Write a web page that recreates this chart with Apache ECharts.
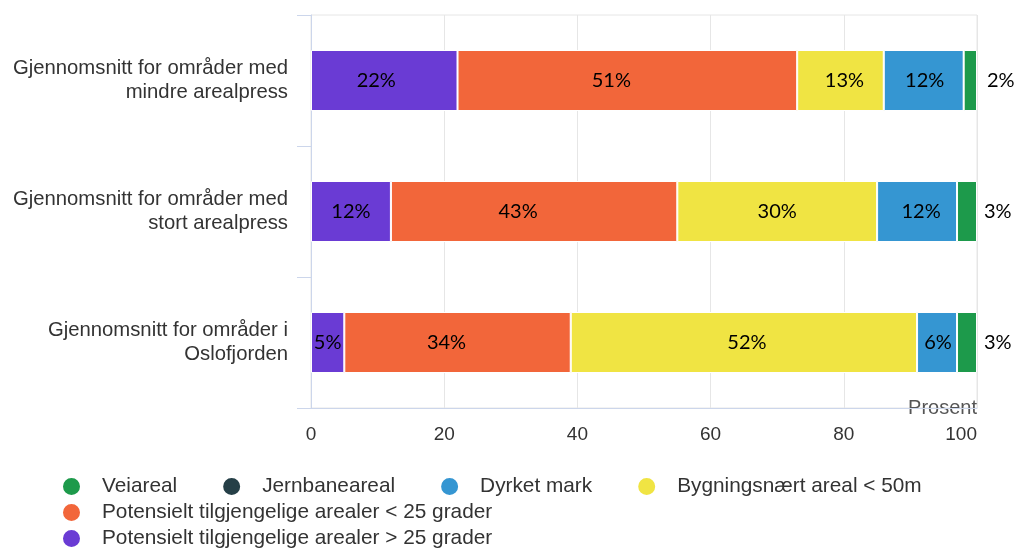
<!DOCTYPE html>
<html>
<head>
<meta charset="utf-8">
<script src="https://cdn.jsdelivr.net/npm/echarts@6/dist/echarts.min.js"></script>
<style>
  html, body { margin: 0; padding: 0; background: #fff; }
  #chart { width: 1014px; height: 548px; }
</style>
</head>
<body>
<div id="chart"></div>
<script>
// Area categories (top to bottom)
const categories = [
  'Gjennomsnitt for områder med\nmindre arealpress',
  'Gjennomsnitt for områder med\nstort arealpress',
  'Gjennomsnitt for områder i\nOslofjorden'
];

// Share of area per land type, percent
const brattAreal = [22, 12, 5];        // Potensielt tilgjengelige arealer > 25 grader
const slakeAreal = [51, 43, 34];       // Potensielt tilgjengelige arealer < 25 grader
const bygningsnaert = [13, 30, 52];    // Bygningsnært areal < 50m
const dyrketMark = [12, 12, 6];        // Dyrket mark
const jernbaneAreal = [0, 0, 0];       // Jernbaneareal
const veiAreal = [2, 3, 3];            // Veiareal

const xTicks = { min: 0, max: 100, interval: 20 };

const names = {
  vei: 'Veiareal',
  jernbane: 'Jernbaneareal',
  dyrket: 'Dyrket mark',
  bygning: 'Bygningsnært areal < 50m',
  slak: 'Potensielt tilgjengelige arealer < 25 grader',
  bratt: 'Potensielt tilgjengelige arealer > 25 grader'
};

const colors = {
  vei: '#1d9a4b',
  jernbane: '#253f47',
  dyrket: '#3596d2',
  bygning: '#f0e443',
  slak: '#f2663a',
  bratt: '#6a3bd4'
};

// Small horizontal label nudges (px) per series, one per category
const labelNudge = {
  bratt: [-8, 0, 0],
  slak: [-16, -16, -11],
  bygning: [4, 0, 3],
  dyrket: [1, 4, 1],
  jernbane: [0, 0, 0],
  vei: [3, 0, 0]
};

const labelFont = { fontFamily: 'Lato', fontSize: 20, color: '#000' };

function bar(key, values, labelOpt) {
  return {
    name: names[key],
    type: 'bar',
    stack: 'total',
    barWidth: 61,
    data: values.map((v, i) => ({ value: v, label: { offset: [labelNudge[key][i], 0] } })),
    itemStyle: { color: colors[key], borderColor: '#fff', borderWidth: 1 },
    label: Object.assign({
      show: true,
      position: 'inside',
      formatter: p => Math.round(p.value) + '%'
    }, labelFont, labelOpt || {}),
    emphasis: { disabled: true }
  };
}

const legendBase = {
  orient: 'horizontal',
  left: 61,
  padding: 0,
  icon: 'circle',
  itemWidth: 19,
  itemHeight: 19,
  itemGap: 44,
  selectedMode: false,
  textStyle: {
    fontFamily: 'Liberation Sans',
    fontSize: 20.8,
    color: '#333',
    lineHeight: 20,
    padding: [0, 0, 0, 16]
  }
};

const chart = echarts.init(document.getElementById('chart'), null, { renderer: 'canvas' });

chart.setOption({
  animation: false,
  backgroundColor: '#fff',
  grid: {
    left: 311, right: 37, top: 15, bottom: 140,
    show: true, borderColor: '#e6e6e6', borderWidth: 1
  },
  legend: [
    Object.assign({}, legendBase, { top: 476, data: [names.vei, names.jernbane, names.dyrket, names.bygning] }),
    Object.assign({}, legendBase, { top: 502, data: [names.slak] }),
    Object.assign({}, legendBase, { top: 528, data: [names.bratt] })
  ],
  xAxis: {
    type: 'value',
    min: xTicks.min,
    max: xTicks.max,
    interval: xTicks.interval,
    name: 'Prosent',
    nameLocation: 'end',
    nameGap: 0,
    nameTextStyle: {
      fontFamily: 'Liberation Sans', fontSize: 20, color: '#555',
      align: 'right', verticalAlign: 'middle', padding: [0, 0, 8, 0]
    },
    axisLine: { show: true, lineStyle: { color: '#ccd6eb' } },
    axisTick: { show: false },
    axisLabel: {
      fontFamily: 'Liberation Sans', fontSize: 19, color: '#333',
      margin: 17, alignMaxLabel: 'right'
    },
    splitLine: { show: true, lineStyle: { color: '#e6e6e6' } }
  },
  yAxis: {
    type: 'category',
    inverse: true,
    data: categories,
    axisLine: { show: true, lineStyle: { color: '#ccd6eb' } },
    axisTick: { show: true, length: 14, lineStyle: { color: '#ccd6eb' } },
    axisLabel: {
      fontFamily: 'Liberation Sans', fontSize: 20.3, color: '#333',
      lineHeight: 24, margin: 23, align: 'right'
    },
    splitLine: { show: false }
  },
  series: [
    bar('bratt', brattAreal),
    bar('slak', slakeAreal),
    bar('bygning', bygningsnaert),
    bar('dyrket', dyrketMark),
    bar('jernbane', jernbaneAreal, { show: false }),
    bar('vei', veiAreal, { position: 'right', distance: 7 })
  ]
});
</script>
</body>
</html>
